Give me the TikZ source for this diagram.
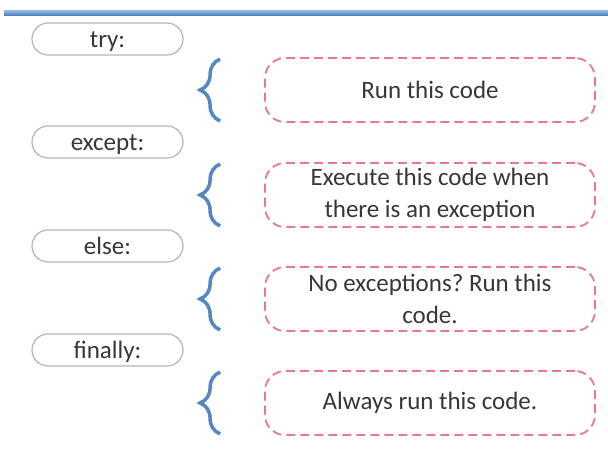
\documentclass[tikz,border=0pt]{standalone}
\usepackage{fontspec}
\setmainfont{Carlito}
\frenchspacing
\usetikzlibrary{decorations.pathreplacing}
\definecolor{bracecol}{RGB}{84,135,196}
\definecolor{dashcol}{RGB}{232,120,138}
\definecolor{pillcol}{RGB}{175,182,192}
\definecolor{txtcol}{RGB}{55,55,55}
\definecolor{topA}{RGB}{150,190,230}
\definecolor{topB}{RGB}{80,130,190}
\begin{document}
\begin{tikzpicture}[x=1pt,y=-1pt,
  pill/.style={draw=pillcol, line width=1.2pt, fill=white, rounded corners=16pt,
    minimum width=151pt, minimum height=32pt, inner sep=0pt,
    text height=19pt, text depth=3pt,
    font=\fontsize{25}{30}\selectfont, text=txtcol},
  codebox/.style={draw=dashcol, line width=1.8pt, dash pattern=on 9pt off 5pt,
    rounded corners=20pt, minimum width=330pt, minimum height=64pt, inner sep=0pt,
    align=center, font=\fontsize{25}{32}\selectfont, text=txtcol},
  curly/.style={draw=bracecol, line width=3.5pt, decorate,
    decoration={brace, amplitude=20pt}}]
\useasboundingbox[fill=white] (0,0) rectangle (608,459);
\shade[top color=topA, bottom color=topB] (4,10) rectangle (608,15);

\node[pill] (try) at (107.5,39) {try:};
\node[pill] (except) at (107.5,142) {except:};
\node[pill] (else) at (107.5,246) {else:};
\node[pill] (finally) at (107.5,350) {finally:};

\node[codebox] (run) at (430,90) {Run this code};
\node[codebox] (exc) at (430,195) {Execute this code when\\there is an exception};
\node[codebox] (noexc) at (430,299) {No exceptions? Run this\\code.};
\node[codebox] (always) at (430,403) {Always run this code.};

\foreach \b in {run,exc,noexc,always}{
  \draw[curly] ([xshift=-44pt,yshift=2pt]\b.south west) -- ([xshift=-44pt,yshift=-2pt]\b.north west);
}
\end{tikzpicture}
\end{document}
